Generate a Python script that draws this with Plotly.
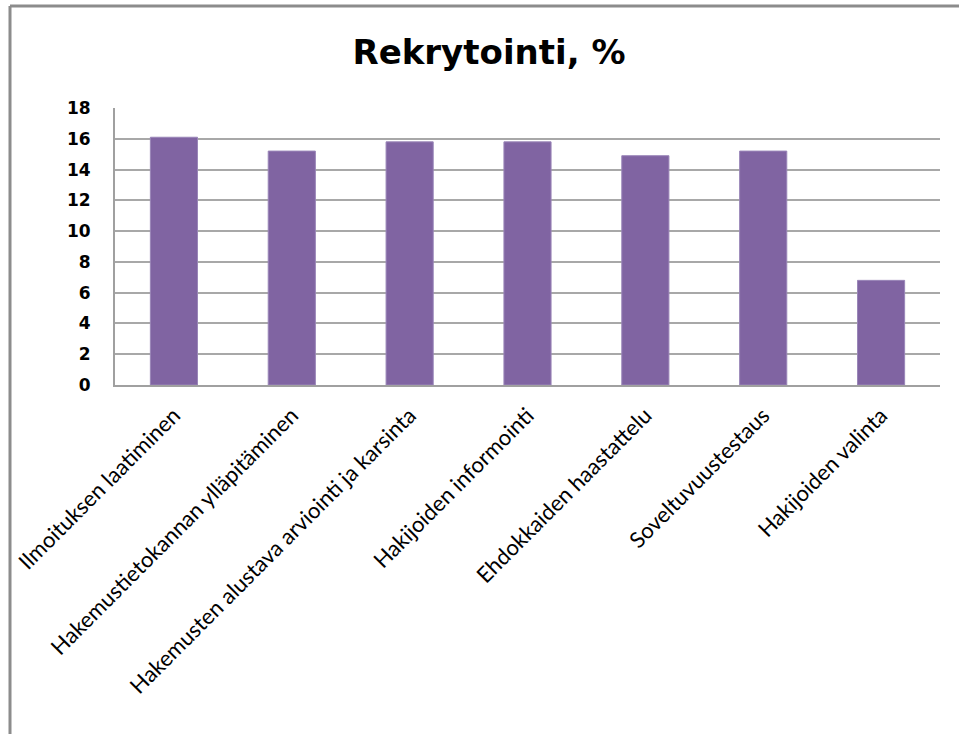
import plotly.graph_objects as go

categories = [
    "Ilmoituksen laatiminen",
    "Hakemustietokannan ylläpitäminen",
    "Hakemusten alustava arviointi ja karsinta",
    "Hakijoiden informointi",
    "Ehdokkaiden haastattelu",
    "Soveltuvuustestaus",
    "Hakijoiden valinta",
]
values = [16.1, 15.2, 15.8, 15.8, 14.9, 15.2, 6.8]
y_ticks = [0, 2, 4, 6, 8, 10, 12, 14, 16, 18]

fig = go.Figure(
    go.Bar(
        x=categories,
        y=values,
        marker=dict(color="#8064A2", line=dict(color="#9A86B8", width=1)),
    )
)

W, H = 959, 734
L, R, T, B = 115, 19, 108, 349
pw, ph = W - L - R, H - T - B

def px(x):
    return (x - L) / pw

def py(y):
    return (H - B - y) / ph

fig.update_layout(
    width=W,
    height=H,
    margin=dict(l=L, r=R, t=T, b=B, autoexpand=False),
    paper_bgcolor="white",
    plot_bgcolor="white",
    bargap=0.6,
    showlegend=False,
    title=dict(
        text="Rekrytointi, %",
        x=px(489),
        xref="paper",
        xanchor="center",
        y=1 - 52 / H,
        yanchor="middle",
        font=dict(family="DejaVu Sans", size=34, color="black", weight="bold"),
    ),
    xaxis=dict(
        tickangle=-45,
        tickfont=dict(family="Lato", size=22, color="black"),
        showline=True,
        linecolor="#A0A0A0",
        linewidth=2,
        showgrid=False,
        ticks="",
        ticklabelstandoff=7,
    ),
    yaxis=dict(
        range=[0, 18],
        tickvals=y_ticks,
        tickfont=dict(family="DejaVu Sans", size=17, color="black", weight="bold"),
        showgrid=True,
        gridcolor="#A8A8A8",
        gridwidth=2,
        showline=True,
        linecolor="#A0A0A0",
        linewidth=2,
        zeroline=False,
        ticks="",
        ticklabelstandoff=19,
    ),
    shapes=[
        dict(
            type="line", xref="paper", yref="paper",
            x0=px(10), x1=px(10), y0=py(H + 5), y1=py(6),
            line=dict(color="#8C8C8C", width=3),
        ),
        dict(
            type="line", xref="paper", yref="paper",
            x0=px(10), x1=px(W + 5), y0=py(6), y1=py(6),
            line=dict(color="#8C8C8C", width=3),
        ),
    ],
)

fig.write_html("out.html")
